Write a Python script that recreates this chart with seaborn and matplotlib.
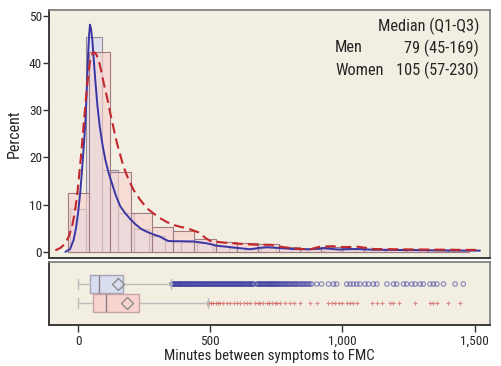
"""
Minutes between symptoms and first medical contact (FMC), by sex.
Histogram + density on top, box plots below.
"""

import pandas as pd
import matplotlib
matplotlib.use("Agg")
import matplotlib.pyplot as plt
from matplotlib import font_manager
import seaborn as sns

# ---- data ----
men_bin_centers = [0, 60, 120, 180, 240, 300, 360, 420, 480, 540, 600, 660, 720,
                   780, 840, 900, 960, 1020, 1080, 1140, 1200, 1260, 1320, 1380, 1440]
men_pct = [9.0, 45.5, 17.3, 8.2, 4.9, 3.3, 2.3, 2.1, 1.8, 1.2, 0.9, 0.7, 0.9,
           0.8, 0.6, 0.5, 0.5, 0.6, 0.5, 0.4, 0.3, 0.3, 0.3, 0.2, 0.2]

women_bin_centers = [0, 80, 160, 240, 320, 400, 480, 560, 640, 720, 800, 880,
                     960, 1040, 1120, 1200, 1280, 1360, 1440]
women_pct = [12.5, 42.3, 17.0, 8.3, 5.3, 4.5, 2.7, 2.0, 1.8, 1.7, 1.1, 0.7,
             1.0, 0.9, 0.6, 0.5, 0.5, 0.4, 0.3]

men_kde_x = [-48, -30, -17, -8, 0, 8, 15, 22, 28, 33, 38, 42, 45, 49, 54, 59, 65,
             73, 82, 92, 103, 115, 128, 143, 160, 178, 198, 216, 235, 254, 273,
             292, 311, 326, 342, 365, 387, 437, 488, 525, 576, 626, 651, 680,
             714, 752, 815, 878, 930, 980, 1050, 1120, 1200, 1300, 1400, 1520]
men_kde_y = [0.0, 0.6, 2.5, 5.0, 8.2, 12.5, 17.3, 22.8, 27.9, 34.5, 42.0, 46.2,
             48.1, 47.2, 44.8, 40.9, 36.4, 31.0, 26.5, 22.8, 19.5, 16.8, 14.5,
             11.9, 9.6, 8.2, 6.9, 5.9, 5.0, 4.4, 3.95, 3.55, 3.2, 2.7, 2.3, 2.25,
             2.25, 2.2, 1.8, 1.3, 1.0, 0.7, 0.55, 0.8, 1.0, 0.85, 0.6, 0.55,
             0.8, 0.5, 0.6, 0.45, 0.4, 0.35, 0.3, 0.25]

women_kde_x = [-86, -65, -48, -35, -23, -13, -4, 4, 12, 20, 28, 36, 44, 51, 59,
               68, 78, 87, 97, 110, 122, 135, 147, 160, 172, 190, 210, 235, 261,
               286, 311, 336, 361, 386, 412, 437, 462, 480, 500, 550, 613, 676,
               727, 777, 828, 878, 915, 960, 1010, 1055, 1120, 1200, 1300, 1400,
               1520]
women_kde_y = [0.3, 0.9, 1.8, 3.3, 5.3, 8.2, 11.7, 16.2, 20.9, 26.2, 31.4, 36.0,
               39.9, 41.6, 42.3, 41.9, 40.6, 38.4, 35.7, 32.6, 29.3, 26.0, 23.0,
               20.4, 18.0, 15.4, 13.1, 11.0, 9.2, 8.1, 7.1, 6.3, 5.7, 5.3, 5.0,
               4.5, 4.0, 3.0, 2.3, 1.97, 1.7, 1.5, 1.5, 1.0, 0.63, 0.55, 1.1,
               1.2, 1.0, 1.1, 0.6, 0.55, 0.5, 0.45, 0.4]

groups = ["Men", "Women"]
medians = [79, 105]
q1s = [45, 57]
q3s = [169, 230]
whisker_lo = [0, 0]
whisker_hi = [352, 492]
means = [152, 186]

men_fliers = [355, 359, 362, 366, 370, 374, 378, 382, 385, 389, 392, 396, 400,
              404, 408, 412, 415, 419, 423, 427, 430, 434, 438, 442, 446, 450,
              454, 458, 462, 466, 470, 474, 478, 482, 486, 490, 494, 498, 502,
              506, 510, 514, 518, 522, 526, 530, 534, 538, 542, 546, 550, 554,
              558, 562, 566, 570, 574, 578, 582, 586, 590, 594, 598, 602, 606,
              610, 614, 618, 622, 626, 630, 635, 640, 644, 648, 652, 656, 660,
              664, 676, 680, 684, 688, 692, 696, 700, 705, 710, 714, 718, 722,
              726, 730, 734, 738, 742, 747, 752, 756, 760, 765, 770, 775, 780,
              785, 790, 795, 800, 806, 812, 817, 822, 828, 834, 840, 846, 852,
              858, 864, 870, 877, 884, 903, 921, 947, 966, 978, 1016, 1029,
              1041, 1054, 1066, 1085, 1098, 1117, 1130, 1168, 1193, 1205, 1231,
              1243, 1262, 1275, 1294, 1306, 1331, 1344, 1357, 1382, 1426, 1457]
women_fliers = [487, 495, 503, 512, 520, 529, 538, 550, 562, 576, 588, 600, 613,
                626, 639, 651, 670, 680, 689, 701, 714, 724, 733, 743, 752, 765,
                784, 803, 815, 840, 878, 903, 947, 960, 972, 985, 998, 1016,
                1029, 1041, 1054, 1111, 1130, 1149, 1180, 1193, 1212, 1275,
                1331, 1344, 1357, 1401, 1445]

# ---- style ----
sns.set_style("white")

# pick a narrow sans if one is installed
installed = {(f.name, f.stretch) for f in font_manager.fontManager.ttflist}
names = {n for n, _ in installed}
font_kw = {"family": ["Roboto", "DejaVu Sans"], "stretch": "normal"}
for cand in ["Liberation Sans Narrow", "DejaVu Sans Condensed", "Roboto Condensed",
             "Open Sans Condensed", "Noto Sans Condensed"]:
    if cand in names:
        font_kw = {"family": [cand, "DejaVu Sans"], "stretch": "normal"}
        break
else:
    for n, s in installed:
        if n in ("DejaVu Sans", "Noto Sans", "Open Sans") and s in ("condensed", 75, "semi-condensed"):
            font_kw = {"family": [n, "DejaVu Sans"], "stretch": "condensed"}
            break
plt.rcParams['font.family'] = font_kw["family"]
plt.rcParams['font.stretch'] = font_kw["stretch"]

BG = "#F2EEE1"
MEN_FILL = "#D9DDF0"
WOMEN_FILL = "#F8D3CF"
MEN_LINE = "#3A36A6"
WOMEN_LINE = "#C3262B"

fig = plt.figure(figsize=(5.02, 3.66), dpi=100)
W, H = 502, 366
ax = fig.add_axes([49 / W, (H - 258) / H, (490 - 49) / W, (258 - 10) / H])
axb = fig.add_axes([49 / W, (H - 325) / H, (490 - 49) / W, (325 - 262) / H],
                   sharex=ax)

# ---- histograms ----
men_df = pd.DataFrame({"x": men_bin_centers, "pct": men_pct})
women_df = pd.DataFrame({"x": women_bin_centers, "pct": women_pct})
men_edges = [c - 30 for c in men_bin_centers] + [men_bin_centers[-1] + 30]
women_edges = [c - 40 for c in women_bin_centers] + [women_bin_centers[-1] + 40]

sns.histplot(data=men_df, x="x", weights="pct", bins=men_edges, ax=ax,
             color=MEN_FILL, alpha=0.8, edgecolor="#9C8C96", linewidth=0.8)
sns.histplot(data=women_df, x="x", weights="pct", bins=women_edges, ax=ax,
             color=WOMEN_FILL, alpha=0.6, edgecolor="#A07C80", linewidth=0.8)

# ---- density curves ----
sns.lineplot(x=men_kde_x, y=men_kde_y, ax=ax, color=MEN_LINE, lw=1.4)
sns.lineplot(x=women_kde_x, y=women_kde_y, ax=ax, color=WOMEN_LINE, lw=1.5,
             linestyle=(0, (5, 2.5)))

ax.set_xlim(-110, 1558)
ax.set_ylim(-1.3, 51.2)
ax.set_yticks([0, 10, 20, 30, 40, 50])
ax.set_ylabel("Percent", fontsize=11.5, labelpad=5)
ax.set_xlabel("")
ax.tick_params(axis="x", bottom=False, labelbottom=False)
ax.tick_params(axis="y", left=True, length=4, width=1, color="#333333",
               labelsize=9.5, pad=1)

txt = dict(transform=ax.transAxes, va="center", fontsize=11.8)
ax.text(0.975, 0.935, "Median (Q1-Q3)", ha="right", **txt)
ax.text(0.649, 0.847, "Men", ha="left", **txt)
ax.text(0.975, 0.847, "79 (45-169)", ha="right", **txt)
ax.text(0.649, 0.758, "Women", ha="left", **txt)
ax.text(0.975, 0.758, "105 (57-230)", ha="right", **txt)

# ---- box plots ----
stats = []
for i, g in enumerate(groups):
    stats.append({"label": g, "med": medians[i], "q1": q1s[i], "q3": q3s[i],
                  "whislo": whisker_lo[i], "whishi": whisker_hi[i],
                  "mean": means[i], "fliers": []})

bp = axb.bxp(stats, positions=[0.65, 0.35], widths=0.29, orientation="horizontal",
             patch_artist=True, showmeans=True, showfliers=False,
             meanprops=dict(marker="D", markerfacecolor="none",
                            markeredgecolor="#8C8C8C", markersize=6),
             medianprops=dict(color="#8C7F86", lw=1),
             whiskerprops=dict(color="#BBBBBB", lw=1),
             capprops=dict(color="#BBBBBB", lw=1),
             boxprops=dict(lw=1))
bp["boxes"][0].set_facecolor(MEN_FILL)
bp["boxes"][0].set_edgecolor("#A8A4B8")
bp["boxes"][1].set_facecolor(WOMEN_FILL)
bp["boxes"][1].set_edgecolor("#C8A4A4")

sns.scatterplot(x=men_fliers, y=[0.65] * len(men_fliers), ax=axb,
                marker="o", facecolor="none", edgecolor="#2E2E9C", s=10,
                linewidth=0.9, alpha=0.5)
sns.scatterplot(x=women_fliers, y=[0.35] * len(women_fliers), ax=axb,
                marker="+", color=WOMEN_LINE, s=11, linewidth=0.8, alpha=0.5)

axb.set_ylim(0, 1)
axb.set_yticks([])
axb.set_xlim(-110, 1558)
axb.set_xticks([0, 500, 1000, 1500])
axb.set_xticklabels(["0", "500", "1,000", "1,500"])
axb.tick_params(axis="x", bottom=True, length=5, width=1, color="#333333",
                labelsize=9.5, pad=2)
axb.set_xlabel("Minutes between symptoms to FMC", fontsize=10.7, labelpad=1)

for a in (ax, axb):
    a.set_facecolor(BG)
    for side in ("top", "right"):
        a.spines[side].set_color("#7A7A7A")
        a.spines[side].set_linewidth(1.2)
    for side in ("left", "bottom"):
        a.spines[side].set_color("#3A3A3A")
        a.spines[side].set_linewidth(1.4)
    for side in a.spines:
        a.spines[side].set_visible(True)

fig.savefig("out.png", dpi=100)
